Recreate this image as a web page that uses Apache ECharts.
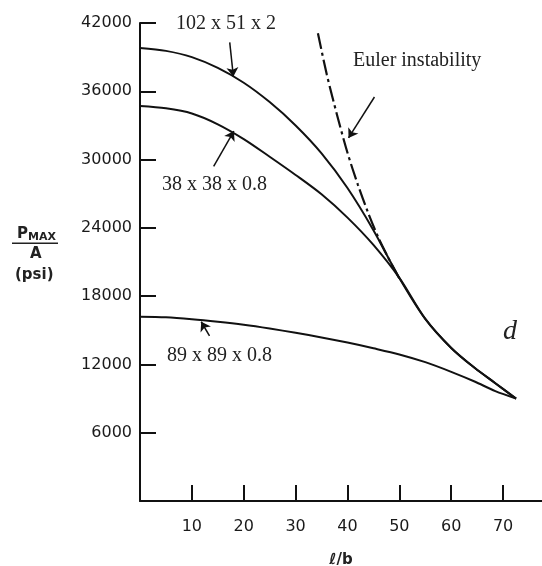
<!DOCTYPE html>
<html><head><meta charset="utf-8">
<script src="https://cdn.jsdelivr.net/npm/echarts@6.0.0/dist/echarts.min.js"></script>
<style>html,body{margin:0;padding:0;background:#fff}#c{width:542px;height:566px}</style>
</head><body><div id="c"></div>
<script>
// l/b sample positions
const xValues = [0, 5, 10, 15, 20, 25, 30, 35, 40, 45, 50, 55, 60, 64.5, 68.5, 72.5];
// 102 x 51 x 2
const s102 = [39800, 39550, 39000, 38050, 36750, 35050, 33000, 30550, 27500, 23800, 19600, 16000, 13450, 11700, 10350, 9000];
// 38 x 38 x 0.8
const s38 = [34700, 34500, 34050, 33100, 31800, 30250, 28650, 26950, 24900, 22500, 19600, 16000, 13450, 11700, 10350, 9000];
// 89 x 89 x 0.8
const s89 = [16200, 16150, 15980, 15750, 15480, 15150, 14780, 14370, 13920, 13420, 12880, 12200, 11350, 10500, 9650, 9000];
// Euler instability
const eulerX = [34.3, 36, 38, 40, 42, 44, 46, 48, 50];
const eulerY = [41100, 37500, 33900, 30600, 27800, 25300, 23100, 21250, 19550];
// annotation arrows (from -> to)
const arrowFrom = [[17.3, 40300], [14.2, 29400], [13.4, 14500], [45.2, 35500]];
const arrowTo   = [[18.0, 37300], [18.1, 32500], [11.8, 15750], [40.2, 31900]];
const xTicks = [10, 20, 30, 40, 50, 60, 70];
const yTicks = [6000, 12000, 18000, 24000, 30000, 36000, 42000];

const chart = echarts.init(document.getElementById('c'));
const ink = '#111';
const lbl = {fontFamily: 'DejaVu Sans', fontSize: 16, color: '#1a1a1a', formatter: v => String(v)};
const pairs = arr => xValues.map((x, i) => [x, arr[i]]);
const curve = (name, data) => ({
  name, type: 'line', data, smooth: 0.3, showSymbol: false, symbol: 'none',
  lineStyle: {color: ink, width: 2}, z: 3
});

chart.setOption({
  animation: false,
  backgroundColor: '#fff',
  grid: {left: 140, right: 0, top: 23, bottom: 65, outerBoundsMode: 'none', containLabel: false},
  xAxis: {
    type: 'value', min: 0, max: 77.5, interval: 10,
    axisLine: {show: true, onZero: false, lineStyle: {color: ink, width: 2}},
    axisTick: {show: true, inside: true, length: 16, customValues: xTicks, lineStyle: {color: ink, width: 2}},
    axisLabel: Object.assign({customValues: xTicks, margin: 18}, lbl),
    splitLine: {show: false},
    name: 'ℓ/b', nameLocation: 'middle', nameGap: 52,
    nameTextStyle: {fontFamily: 'DejaVu Sans', fontSize: 15, fontWeight: 'bold', color: '#222'}
  },
  yAxis: {
    type: 'value', min: 0, max: 42000, interval: 6000,
    axisLine: {show: true, lineStyle: {color: ink, width: 2}},
    axisTick: {show: true, inside: true, length: 16, customValues: yTicks, lineStyle: {color: ink, width: 2}},
    axisLabel: Object.assign({customValues: yTicks, margin: 8}, lbl),
    splitLine: {show: false}
  },
  series: [
    curve('102 x 51 x 2', pairs(s102)),
    curve('38 x 38 x 0.8', pairs(s38)),
    curve('89 x 89 x 0.8', pairs(s89)),
    {
      name: 'Euler instability', type: 'line', smooth: 0.3, showSymbol: false, symbol: 'none',
      data: eulerX.map((x, i) => [x, eulerY[i]]),
      lineStyle: {color: ink, width: 2.2, type: [16, 4, 3, 4]}, z: 4
    },
    {
      type: 'lines', coordinateSystem: 'cartesian2d',
      symbol: ['none', 'arrow'], symbolSize: [0, 9],
      lineStyle: {color: ink, width: 1.5, opacity: 1, curveness: 0},
      data: arrowFrom.map((f, i) => ({coords: [f, arrowTo[i]]})), z: 5
    }
  ],
  graphic: [
    {type: 'text', left: 176, top: 14, style: {text: '102 x 51 x 2', font: '20px "Liberation Serif"', fill: '#222'}},
    {type: 'text', left: 162, top: 175, style: {text: '38 x 38 x 0.8', font: '20px "Liberation Serif"', fill: '#222'}},
    {type: 'text', left: 167, top: 346, style: {text: '89 x 89 x 0.8', font: '20px "Liberation Serif"', fill: '#222'}},
    {type: 'text', left: 353, top: 51, style: {text: 'Euler instability', font: '20px "Liberation Serif"', fill: '#222'}},
    {type: 'text', left: 503, top: 318, style: {text: 'd', font: 'italic 28px "Liberation Serif"', fill: '#222'}},
    {type: 'text', left: 17, top: 227, style: {text: 'P', font: 'bold 15px "DejaVu Sans"', fill: '#222'}},
    {type: 'text', left: 28, top: 232, style: {text: 'MAX', font: 'bold 11px "DejaVu Sans"', fill: '#222'}},
    {type: 'rect', shape: {x: 12, y: 242.5, width: 46, height: 1.6}, style: {fill: '#222'}},
    {type: 'text', left: 30, top: 247, style: {text: 'A', font: 'bold 15px "DejaVu Sans"', fill: '#222'}},
    {type: 'text', left: 15, top: 268, style: {text: '(psi)', font: 'bold 15px "DejaVu Sans"', fill: '#222'}}
  ]
});
</script>
</body></html>
